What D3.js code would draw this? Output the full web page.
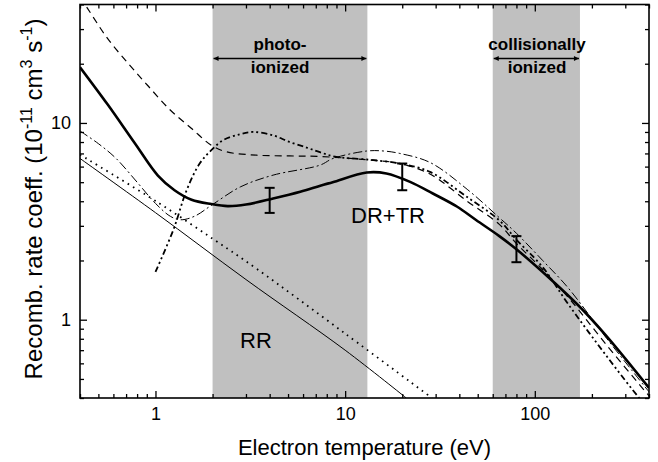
<!DOCTYPE html>
<html>
<head>
<meta charset="utf-8">
<script src="https://cdn.jsdelivr.net/npm/d3@7"></script>
<style>
body { margin: 0; background: #fff; }
text { font-family: "Liberation Sans", Arial, sans-serif; fill: #000; }
</style>
</head>
<body>
<div id="chart"></div>
<script>
// values: [temperature eV, rate coeff 1e-11 cm3/s]
var drtr = [[0.4,19.2],[0.56,12.4],[0.78,7.86],[1.03,5.4],[1.26,4.55],[1.55,4.07],[1.97,3.87],[2.4,3.78],[3,3.85],
    [4.17,4.13],[5.8,4.47],[7.4,4.8],[8.6,5.0],[13,5.6],[16.5,5.54],[22,5.02],[29,4.38],[39,3.75],[49,3.21],
    [65,2.66],[80,2.28],[120,1.62],[173,1.16],[240,0.82],[400,0.45]];
var rr = [[0.4,6.6],[1,3.5],[3,1.6],[10,0.7],[21,0.4]];
var dotted = [[0.4,6.9],[1.05,3.9],[2.05,2.54],[3.4,1.82],[10,0.85],[28.7,0.4]];
var dashed = [[0.4,43.6],[0.44,38],[0.56,26.8],[0.72,20],[0.91,15.5],[1.2,11.6],[1.55,9.37],[1.97,7.7],[2.37,7.13],
    [3.4,6.86],[5.1,6.8],[7.4,6.75],[13,6.5],[19.4,6.22],[28,5.5],[44,4.0],[65,3.05],[80,2.44],[110,1.8],
    [150,1.3],[240,0.74],[400,0.41]];
var dashDot = [[0.4,9.1],[0.5,7.85],[0.62,6.6],[0.8,5.0],[1.0,3.9],[1.2,3.35],[1.35,3.22],[1.6,3.35],[2.0,3.85],
    [2.8,4.73],[4.17,5.43],[7.36,6.1],[8.64,6.6],[13,7.2],[16,7.2],[19.4,7.0],[28,6.3],[44,4.6],[65,3.3],
    [80,2.75],[110,2.0],[150,1.45],[240,0.8],[400,0.43]];
var dashDotDot = [[1.0,1.75],[1.24,2.85],[1.46,4.55],[1.71,6.22],[1.97,7.27],[2.27,8.17],[2.78,8.76],[3.27,9.0],
    [4.17,8.65],[5.1,8.0],[6.26,7.5],[7.36,7.1],[9,6.72],[13,6.52],[19.4,6.22],[28,5.64],[44,4.2],[65,3.2],
    [80,2.55],[110,1.85],[150,1.2],[240,0.65],[355,0.4],[400,0.35]];

// experimental points with error bars
var expT = [4, 20, 80];
var expLow = [3.49, 4.55, 1.96];
var expHigh = [4.68, 6.22, 2.66];

// shaded plasma regions
var bands = [[2, 13.1], [60, 173]];
var bandText = [["photo-", "ionized"], ["collisionally", "ionized"]];

var xMajor = [1, 10, 100];
var yMajor = [1, 10];

var w = 658, h = 462;
var pLeft = 80, pRight = 649, pTop = 4.5, pBottom = 398;

var svg = d3.select("#chart").append("svg")
    .attr("width", w)
    .attr("height", h);

var x = d3.scaleLog().domain([0.4, 400]).range([pLeft, pRight]);
var y = d3.scaleLog().domain([0.4, 40]).range([pBottom, pTop]);

// minor tick positions
var xMinor = [], yMinor = [];
[0.1, 1, 10, 100].forEach(function(p) {
    for (var k = 2; k <= 9; k++) {
        var v = +(k * p).toPrecision(3);
        if (v >= 0.4 && v <= 400) xMinor.push(v);
        if (v >= 0.4 && v <= 40) yMinor.push(v);
    }
});

svg.append("clipPath").attr("id", "plot")
    .append("rect")
    .attr("x", pLeft).attr("y", pTop)
    .attr("width", pRight - pLeft).attr("height", pBottom - pTop);

// grey bands
svg.selectAll("rect.band")
    .data(bands)
    .enter().append("rect")
    .attr("class", "band")
    .attr("x", function(d) { return x(d[0]); })
    .attr("y", pTop)
    .attr("width", function(d) { return x(d[1]) - x(d[0]); })
    .attr("height", pBottom - pTop)
    .style("fill", "#c0c0c0");

// arrows
var defs = svg.append("defs");
defs.append("marker")
    .attr("id", "head")
    .attr("viewBox", "0 0 10 10")
    .attr("refX", 10).attr("refY", 5)
    .attr("markerWidth", 11).attr("markerHeight", 5)
    .attr("markerUnits", "userSpaceOnUse")
    .attr("orient", "auto-start-reverse")
    .append("path")
    .attr("d", "M0,0L10,5L0,10z")
    .style("fill", "#000");

svg.selectAll("line.arrow")
    .data(bands)
    .enter().append("line")
    .attr("class", "arrow")
    .attr("x1", function(d) { return x(d[0]) + 1; })
    .attr("x2", function(d) { return x(d[1]) - 1; })
    .attr("y1", 58.5).attr("y2", 58.5)
    .style("stroke", "#000")
    .style("stroke-width", 1.6)
    .attr("marker-start", "url(#head)")
    .attr("marker-end", "url(#head)");

var txtX = [280, 537];
bandText.forEach(function(t, i) {
    svg.append("text")
        .attr("x", txtX[i]).attr("y", 50)
        .attr("text-anchor", "middle")
        .style("font-size", "17px").style("font-weight", "bold")
        .text(t[0]);
    svg.append("text")
        .attr("x", txtX[i]).attr("y", 73)
        .attr("text-anchor", "middle")
        .style("font-size", "17px").style("font-weight", "bold")
        .text(t[1]);
});

// curves
var line = d3.line()
    .x(function(d) { return x(d[0]); })
    .y(function(d) { return y(d[1]); })
    .curve(d3.curveCatmullRom.alpha(0.5));

var series = [
    {data: rr, width: 1, dash: null},
    {data: dotted, width: 1.8, dash: "1.6,4.6"},
    {data: dashed, width: 1.2, dash: "7,5"},
    {data: dashDot, width: 1, dash: "9,3,2,3"},
    {data: dashDotDot, width: 1.8, dash: "6,3,2,3,2,3"},
    {data: drtr, width: 2.6, dash: null}
];

var g = svg.append("g").attr("clip-path", "url(#plot)");
g.selectAll("path")
    .data(series)
    .enter().append("path")
    .attr("d", function(d) { return line(d.data); })
    .style("fill", "none")
    .style("stroke", "#000")
    .style("stroke-width", function(d) { return d.width; })
    .style("stroke-dasharray", function(d) { return d.dash; });

// error bars
expT.forEach(function(t, i) {
    var eb = svg.append("g").style("stroke", "#000").style("stroke-width", 2);
    eb.append("line").attr("x1", x(t)).attr("x2", x(t)).attr("y1", y(expLow[i])).attr("y2", y(expHigh[i]));
    eb.append("line").attr("x1", x(t) - 5).attr("x2", x(t) + 5).attr("y1", y(expLow[i])).attr("y2", y(expLow[i]));
    eb.append("line").attr("x1", x(t) - 5).attr("x2", x(t) + 5).attr("y1", y(expHigh[i])).attr("y2", y(expHigh[i]));
});

// curve labels
svg.append("text").attr("x", 388).attr("y", 223).attr("text-anchor", "middle")
    .style("font-size", "22px").text("DR+TR");
svg.append("text").attr("x", 256).attr("y", 348).attr("text-anchor", "middle")
    .style("font-size", "22px").text("RR");

// axes, ticks inside on all four sides
function addAxis(axisFn, scale, major, minor, tr, labels) {
    var a = svg.append("g").attr("transform", tr)
        .call(axisFn(scale).tickValues(major).tickSize(-7).tickPadding(9)
            .tickFormat(labels ? d3.format("d") : ""));
    a.select(".domain").remove();
    a.selectAll("text").style("font-size", "18px").style("font-family", '"Liberation Sans", Arial, sans-serif');
    a.selectAll("line").style("stroke-width", 1.3);
    var b = svg.append("g").attr("transform", tr)
        .call(axisFn(scale).tickValues(minor).tickSize(-4).tickFormat(""));
    b.select(".domain").remove();
    b.selectAll("line").style("stroke-width", 1.3);
}
addAxis(d3.axisBottom, x, xMajor, xMinor, "translate(0," + pBottom + ")", true);
addAxis(d3.axisTop, x, xMajor, xMinor, "translate(0," + pTop + ")", false);
addAxis(d3.axisLeft, y, yMajor, yMinor, "translate(" + pLeft + ",0)", true);
addAxis(d3.axisRight, y, yMajor, yMinor, "translate(" + pRight + ",0)", false);

svg.append("rect")
    .attr("x", pLeft).attr("y", pTop)
    .attr("width", pRight - pLeft).attr("height", pBottom - pTop)
    .style("fill", "none").style("stroke", "#000").style("stroke-width", 1.6);

// axis titles
svg.append("text")
    .attr("x", (pLeft + pRight) / 2).attr("y", 455)
    .attr("text-anchor", "middle")
    .style("font-size", "22px")
    .text("Electron temperature (eV)");

var yt = svg.append("text")
    .attr("transform", "translate(42,199) rotate(-90)")
    .attr("text-anchor", "middle")
    .style("font-size", "24px");
yt.append("tspan").text("Recomb. rate coeff. (10");
yt.append("tspan").attr("dy", -10).style("font-size", "16px").text("-11");
yt.append("tspan").attr("dy", 10).text(" cm");
yt.append("tspan").attr("dy", -10).style("font-size", "16px").text("3");
yt.append("tspan").attr("dy", 10).text(" s");
yt.append("tspan").attr("dy", -10).style("font-size", "16px").text("-1");
yt.append("tspan").attr("dy", 10).text(")");
</script>
</body>
</html>
